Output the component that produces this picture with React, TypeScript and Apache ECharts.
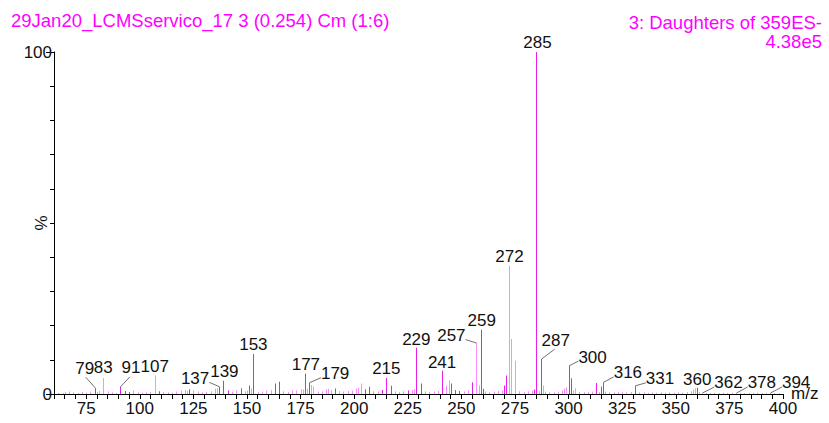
import React, { useEffect, useRef } from 'react';
import * as echarts from 'echarts';

// ---- data ----
const peakMz = [
  62, 64, 65, 67, 69, 71, 73, 75, 77, 79, 80, 81, 83, 85, 87, 89, 91, 93, 95, 97, 99,
  101, 103, 105, 107, 109, 111, 113, 115, 117, 119, 121, 122, 123, 125, 127, 129, 131, 133, 135, 136,
  137, 139, 141, 143, 145, 147, 149, 150, 151, 152, 153, 155, 157, 159, 161, 163, 165, 167, 169, 171,
  173, 175, 176, 177, 178, 179, 180, 181, 183, 185, 187, 188, 189, 191, 193, 195, 197, 199, 201, 202,
  203, 205, 207, 209, 211, 213, 215, 217, 219, 221, 223, 225, 227, 228, 229, 231, 233, 235, 237, 239,
  241, 243, 244, 245, 247, 249, 251, 253, 255, 257, 258, 259, 260, 261, 263, 265, 267, 269, 270, 271,
  272, 273, 275, 277, 279, 281, 283, 284, 285, 286, 287, 288, 289, 291, 293, 295, 297, 298, 299, 300,
  301, 302, 303, 305, 307, 309, 311, 313, 314, 315, 316, 317, 319, 321, 323, 325, 327, 329, 331, 333,
  335, 337, 339, 341, 343, 345, 347, 349, 351, 353, 355, 357, 358, 359, 360, 361, 362, 364, 366, 368,
  370, 372, 374, 376, 378, 380, 382, 384, 386, 388, 390, 392, 394, 396, 398,
];
const peakIntensity = [
  0.4, 0.3, 0.6, 0.7, 0.5, 0.4, 0.6, 0.4, 0.7, 1.7, 0.6, 0.9, 4.7, 0.8, 0.5, 0.4, 2.1, 0.9, 0.6, 1.0, 0.5,
  0.4, 0.5, 0.6, 5.4, 0.8, 0.6, 0.5, 0.4, 0.7, 1.0, 1.2, 0.9, 1.4, 1.1, 0.7, 0.5, 0.6, 0.8, 1.5, 1.7,
  2.1, 3.9, 1.0, 0.6, 1.0, 1.7, 0.8, 1.0, 2.5, 1.6, 11.7, 0.6, 0.7, 1.0, 1.2, 3.1, 3.6, 0.8, 0.6, 1.0,
  1.0, 1.4, 1.3, 6.0, 1.5, 3.3, 2.6, 2.2, 0.7, 0.8, 1.3, 1.5, 1.2, 1.6, 0.9, 0.7, 0.9, 1.0, 1.6, 1.8,
  3.1, 1.4, 2.1, 0.8, 0.7, 1.2, 4.7, 2.4, 0.8, 0.6, 0.8, 1.0, 1.2, 1.4, 13.5, 3.1, 0.8, 0.6, 0.7, 0.9,
  6.8, 2.5, 4.0, 3.1, 1.2, 0.9, 0.7, 1.0, 3.4, 14.9, 2.5, 18.8, 1.5, 0.7, 0.6, 0.7, 0.8, 1.0, 2.5, 5.4,
  37.5, 16.1, 9.7, 0.8, 0.6, 0.7, 1.0, 1.3, 100, 0.8, 10.2, 2.5, 0.7, 0.6, 0.5, 0.7, 1.0, 1.5, 2.0, 8.3,
  4.6, 1.0, 1.7, 0.6, 0.5, 0.6, 0.7, 3.2, 0.6, 2.2, 3.4, 0.7, 0.5, 0.5, 0.6, 0.5, 0.5, 0.6, 2.4, 0.5,
  0.5, 0.4, 0.5, 0.4, 0.5, 0.4, 0.5, 0.4, 0.5, 0.4, 0.6, 0.8, 1.3, 1.7, 1.8, 0.6, 0.3, 0.4, 0.3, 0.4,
  0.3, 0.4, 0.3, 0.4, 0.3, 0.4, 0.3, 0.4, 0.3, 0.4, 0.3, 0.4, 0.3, 0.3, 0.3,
];
// peaks drawn in the stronger magenta (the rest are light pink)
const darkPeakMz = [
  79, 91, 93, 95, 109, 123, 137, 139, 141, 147, 151, 153, 163, 165, 177, 179, 191, 205, 207, 213,
  215, 217, 225, 229, 231, 241, 245, 247, 249, 255, 259, 260, 270, 271, 284, 285, 287, 300, 301,
  313, 315, 316, 331, 360,
];
const labeledMz = [
  79, 83, 91, 107, 137, 139, 153, 177, 179, 215, 229, 241, 257, 259, 272, 285, 287, 300, 316, 331,
  360, 362, 378, 394,
];
const xTickLabels = [75, 100, 125, 150, 175, 200, 225, 250, 275, 300, 325, 350, 375, 400];
const yTickLabels = [0, 100];
const titleLeft = '29Jan20_LCMSservico_17 3 (0.254) Cm (1:6)';
const titleRight1 = '3: Daughters of 359ES-';
const titleRight2 = '4.38e5';
const yName = '%';
const xName = 'm/z';

// ---- layout: label centre offset from the peak top (px), and whether a leader line is drawn ----
const labelLayout: Record<number, [number, number, boolean]> = {
  79: [-10, -20, true], 83: [0, -10, false], 91: [10.5, -19, true], 107: [0, -9, false],
  137: [-24, -8.5, true], 139: [1, -9, false], 153: [0, -9, false], 177: [1, -9, false],
  179: [26, -9, true], 215: [0, -9, false], 229: [0, -8, false], 241: [0, -8.5, false],
  257: [-25, -7.5, true], 259: [1, -9.5, false], 272: [1, -9.5, false], 285: [1, -10, false],
  287: [15, -19, true], 300: [24, -8.5, true], 316: [25, -9.5, true], 331: [25, -7, true],
  360: [0, -8.5, false], 362: [27, -10, true], 378: [26, -10, true], 394: [26, -10, true],
};

const FONT = "'Liberation Sans', Arial, sans-serif";
const DARK = '#ea1eea';
const LIGHT = '#ff8cff';

export default function App() {
  const ref = useRef<HTMLDivElement>(null);
  useEffect(() => {
    if (!ref.current) return;
    const chart = echarts.init(ref.current, undefined, { renderer: 'svg' });
    const darkSet = new Set(darkPeakMz);
    const peakData = peakMz.map((m, i) => [m, peakIntensity[i]]);
    const labelData = labeledMz.map((m) => [m, peakIntensity[peakMz.indexOf(m)]]);
    const xTicks: number[] = [];
    for (let v = 60; v <= 400; v += 5) xTicks.push(v);

    chart.setOption({
      animation: false,
      backgroundColor: '#ffffff',
      textStyle: { fontFamily: FONT },
      grid: { left: 54, right: 46, top: 52, bottom: 29, containLabel: false, outerBoundsMode: 'none' },
      xAxis: {
        type: 'value', min: 60, max: 400,
        axisLine: { show: true, onZero: false, lineStyle: { color: '#000', width: 1 } },
        axisTick: { show: true, customValues: xTicks, length: 5, lineStyle: { color: '#000' } },
        axisLabel: { customValues: xTickLabels, margin: 6, fontSize: 17, color: '#111', fontFamily: FONT },
        splitLine: { show: false },
      },
      yAxis: [
        {
          type: 'value', min: 0, max: 100, interval: 10,
          axisLine: { show: true, lineStyle: { color: '#000', width: 1 } },
          axisTick: { show: true, length: 4, lineStyle: { color: '#000' } },
          axisLabel: { show: false },
          splitLine: { show: false },
        },
        {
          type: 'value', min: 0, max: 100, position: 'left',
          axisLine: { show: false },
          axisTick: { show: true, customValues: yTickLabels, length: 8, lineStyle: { color: '#000' } },
          axisLabel: { customValues: yTickLabels, margin: 2, fontSize: 17, color: '#111', fontFamily: FONT },
          splitLine: { show: false },
        },
      ],
      graphic: [
        { type: 'text', left: 11, top: 11, style: { text: titleLeft, font: `18.5px ${FONT}`, fill: '#ff00ff' } },
        { type: 'text', x: 822, y: 22, style: { text: titleRight1, font: `18.5px ${FONT}`, fill: '#ff00ff', align: 'right', verticalAlign: 'middle' } },
        { type: 'text', x: 822, y: 41.5, style: { text: titleRight2, font: `18.5px ${FONT}`, fill: '#ff00ff', align: 'right', verticalAlign: 'middle' } },
        { type: 'text', x: 41, y: 223, rotation: Math.PI / 2, style: { text: yName, font: `17px ${FONT}`, fill: '#111', align: 'center', verticalAlign: 'middle' } },
        { type: 'text', x: 791, y: 393, style: { text: xName, font: `17px ${FONT}`, fill: '#111', align: 'left', verticalAlign: 'middle' } },
      ],
      series: [
        {
          type: 'custom', name: 'peaks', clip: false, z: 2,
          encode: { x: 0, y: 1 },
          data: peakData,
          renderItem: (params: any, api: any) => {
            const m = api.value(0);
            const v = api.value(1);
            const p0 = api.coord([m, 0]);
            const p1 = api.coord([m, v]);
            const top = Math.min(p1[1], p0[1] - 1);
            const col = darkSet.has(m) ? DARK : LIGHT;
            return {
              type: 'rect',
              shape: { x: Math.round(p0[0]), y: top, width: 1, height: p0[1] - top },
              style: { fill: col, stroke: null },
            };
          },
        },
        {
          type: 'custom', name: 'labels', clip: false, z: 3,
          encode: { x: 0, y: 1 },
          data: labelData,
          renderItem: (params: any, api: any) => {
            const m = api.value(0);
            const v = api.value(1);
            const p = api.coord([m, v]);
            const lay = labelLayout[m] || [0, -9, false];
            const lx = p[0] + lay[0];
            const ly = p[1] + lay[1];
            const text = String(m);
            const w = text.length * 0.556 * 17;
            const children: any[] = [
              { type: 'text', style: { text, x: lx, y: ly, align: 'center', verticalAlign: 'middle', font: `17px ${FONT}`, fill: '#111' } },
            ];
            if (lay[2]) {
              const s = Math.sign(lay[0]);
              let ex: number, ey: number;
              if (Math.abs(lay[0]) >= 20) { ex = lx - s * (w / 2); ey = ly + 4; }
              else { ex = lx - s * 1; ey = ly + 9; }
              children.push({
                type: 'line',
                shape: { x1: Math.round(p[0]) + 0.5, y1: p[1], x2: ex, y2: ey },
                style: { stroke: '#707070', fill: null, lineWidth: 1 },
              });
            }
            return { type: 'group', children };
          },
        },
      ],
    });
    return () => chart.dispose();
  }, []);
  return <div ref={ref} style={{ position: 'fixed', left: 0, top: 0, width: 829, height: 423, background: '#fff' }} />;
}
